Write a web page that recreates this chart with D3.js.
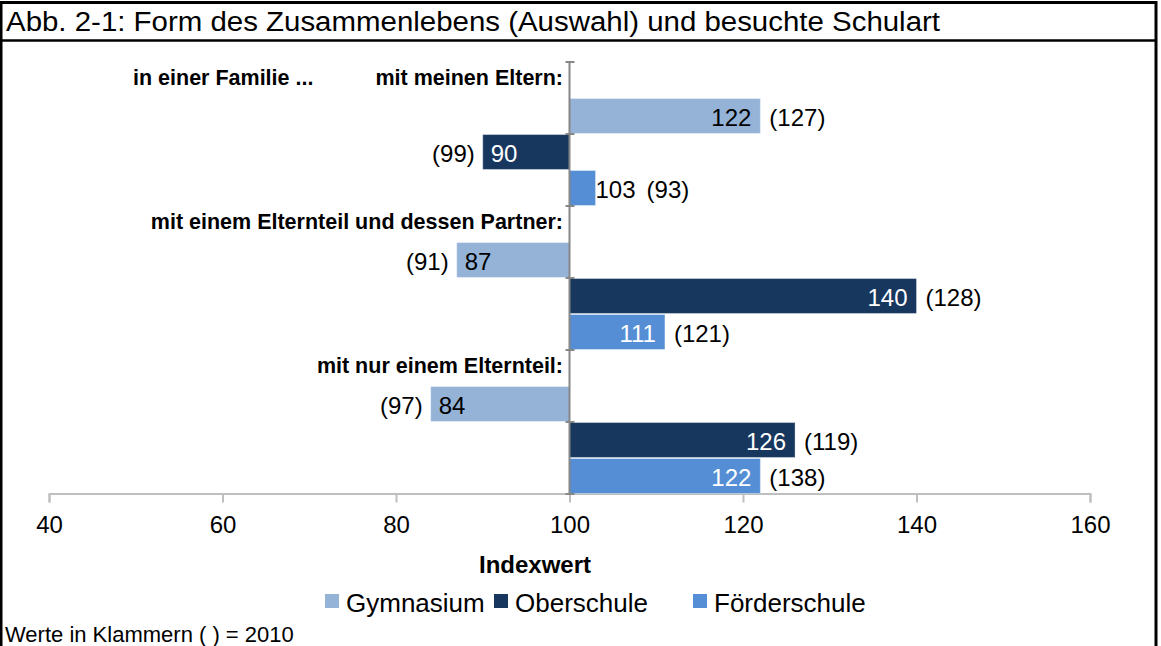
<!DOCTYPE html>
<html>
<head>
<meta charset="utf-8">
<script src="https://cdn.jsdelivr.net/npm/d3@7"></script>
<style>
  body { margin: 0; background: #fff; }
  svg { display: block; font-family: "Liberation Sans", Arial, sans-serif; }
</style>
</head>
<body>
<div id="chart-area"></div>
<script>
// Data
let groups = ["mit meinen Eltern:", "mit einem Elternteil und dessen Partner:", "mit nur einem Elternteil:"];
let schools = ["Gymnasium", "Oberschule", "Förderschule"];
let gymnasium = [122, 87, 84];
let oberschule = [90, 140, 126];
let foerderschule = [103, 111, 122];
let gymnasium2010 = [127, 91, 97];
let oberschule2010 = [99, 128, 119];
let foerderschule2010 = [93, 121, 138];
let xTicks = [40, 60, 80, 100, 120, 140, 160];

let colors = ["#95b3d7", "#17375e", "#558ed5"];
let labelColors = ["#000", "#fff", "#fff"];

let W = 1161, H = 646;

let svg = d3.select("#chart-area").append("svg")
    .attr("width", W)
    .attr("height", H);

// frame + title
svg.append("rect")
    .attr("x", 1).attr("y", 2.5)
    .attr("width", 1155).attr("height", H + 10)
    .attr("fill", "none").attr("stroke", "#000").attr("stroke-width", 3);
svg.append("line")
    .attr("x1", 0).attr("x2", 1157)
    .attr("y1", 40.5).attr("y2", 40.5)
    .attr("stroke", "#000").attr("stroke-width", 2.5);
svg.append("text")
    .attr("x", 6).attr("y", 31)
    .style("font-size", "27px")
    .attr("textLength", 934)
    .attr("lengthAdjust", "spacingAndGlyphs")
    .text("Abb. 2-1: Form des Zusammenlebens (Auswahl) und besuchte Schulart");

// rows: label row + one row per school for each group
let rows = [];
groups.forEach(function(g, gi) {
    rows.push({key: "g" + gi, type: "label", text: g});
    let vals = [gymnasium[gi], oberschule[gi], foerderschule[gi]];
    let old = [gymnasium2010[gi], oberschule2010[gi], foerderschule2010[gi]];
    schools.forEach(function(s, si) {
        rows.push({key: "g" + gi + "s" + si, type: "bar", series: si, value: vals[si], old: old[si]});
    });
});

// Scales
let x = d3.scaleLinear().domain([40, 160]).range([49, 1090]);
let y = d3.scaleBand()
    .domain(rows.map(d => d.key))
    .range([62, 494])
    .paddingInner(0.03)
    .paddingOuter(0.015);

// x axis
let xAxis = d3.axisBottom(x).tickValues(xTicks).tickSize(9).tickPadding(13).tickFormat(d3.format("d"));
let xg = svg.append("g")
    .attr("transform", "translate(0,493.5)")
    .call(xAxis);
xg.select(".domain").attr("stroke", "#bfbfbf").attr("stroke-width", 2);
xg.selectAll(".tick line").attr("stroke", "#bfbfbf").attr("stroke-width", 2);
xg.selectAll(".tick text")
    .style("font-size", "24px")
    .style("font-family", "Liberation Sans, Arial, sans-serif")
    .attr("fill", "#000");

svg.append("text")
    .attr("x", 535).attr("y", 573)
    .attr("text-anchor", "middle")
    .style("font-size", "24px").style("font-weight", "bold")
    .text("Indexwert");

// bars
let barRows = rows.filter(d => d.type === "bar");
svg.selectAll(".bar")
    .data(barRows)
    .enter().append("rect")
    .attr("class", "bar")
    .attr("x", d => Math.min(x(100), x(d.value)))
    .attr("y", d => y(d.key))
    .attr("width", d => Math.abs(x(d.value) - x(100)))
    .attr("height", y.bandwidth())
    .attr("fill", d => colors[d.series])
    .attr("stroke", "#fff")
    .attr("stroke-opacity", 0.35)
    .attr("stroke-width", 1);

// vertical axis at 100
let yAxisG = svg.append("g");
yAxisG.append("line")
    .attr("x1", x(100)).attr("x2", x(100))
    .attr("y1", 62).attr("y2", 494)
    .attr("stroke", "#868686").attr("stroke-width", 2);
let tickRows = rows.filter((d, i) => i % 2 === 0).map(d => y(d.key) - y.step() * y.paddingOuter());
tickRows.push(494);
yAxisG.selectAll(".ytick")
    .data(tickRows)
    .enter().append("line")
    .attr("x1", x(100) - 4).attr("x2", x(100) + 5)
    .attr("y1", d => d).attr("y2", d => d)
    .attr("stroke", "#868686").attr("stroke-width", 2);

// group labels
let labelRows = rows.filter(d => d.type === "label");
svg.selectAll(".glabel")
    .data(labelRows)
    .enter().append("text")
    .attr("class", "glabel")
    .attr("x", 563)
    .attr("y", d => y(d.key) + y.bandwidth() / 2 + 5)
    .attr("text-anchor", "end")
    .style("font-size", "21.5px").style("font-weight", "bold")
    .text(d => d.text);
svg.append("text")
    .attr("x", 133)
    .attr("y", y("g0") + y.bandwidth() / 2 + 5)
    .style("font-size", "21.5px").style("font-weight", "bold")
    .text("in einer Familie ...");

// value labels
barRows.forEach(function(d) {
    let cy = y(d.key) + y.bandwidth() / 2 + 10;
    let end = x(d.value);
    let right = d.value >= 100;
    let barW = Math.abs(end - x(100));
    let t = svg.append("text")
        .attr("y", cy)
        .style("font-size", "24px")
        .text(d.value);
    let tw = t.node().getComputedTextLength();
    let oldX;
    if (tw + 14 < barW) {
        t.attr("fill", labelColors[d.series])
            .attr("x", right ? end - 9 : end + 8)
            .attr("text-anchor", right ? "end" : "start");
        oldX = right ? end + 9 : end - 8;
    } else {
        t.attr("fill", "#000")
            .attr("x", end)
            .attr("text-anchor", right ? "start" : "end");
        oldX = right ? end + tw + 11 : end - tw - 11;
    }
    svg.append("text")
        .attr("x", oldX).attr("y", cy)
        .attr("text-anchor", right ? "start" : "end")
        .style("font-size", "24px")
        .text("(" + d.old + ")");
});

// legend
let legendX = [325, 494, 693];
let lg = svg.selectAll(".legend")
    .data(schools)
    .enter().append("g")
    .attr("class", "legend")
    .attr("transform", (d, i) => "translate(" + legendX[i] + ",594)");
lg.append("rect")
    .attr("width", 14).attr("height", 14)
    .attr("fill", (d, i) => colors[i]);
lg.append("text")
    .attr("x", 21).attr("y", 18)
    .style("font-size", "26px")
    .text(d => d);

// footer
svg.append("text")
    .attr("x", 5).attr("y", 642)
    .style("font-size", "22px")
    .text("Werte in Klammern ( ) = 2010");
</script>
</body>
</html>
